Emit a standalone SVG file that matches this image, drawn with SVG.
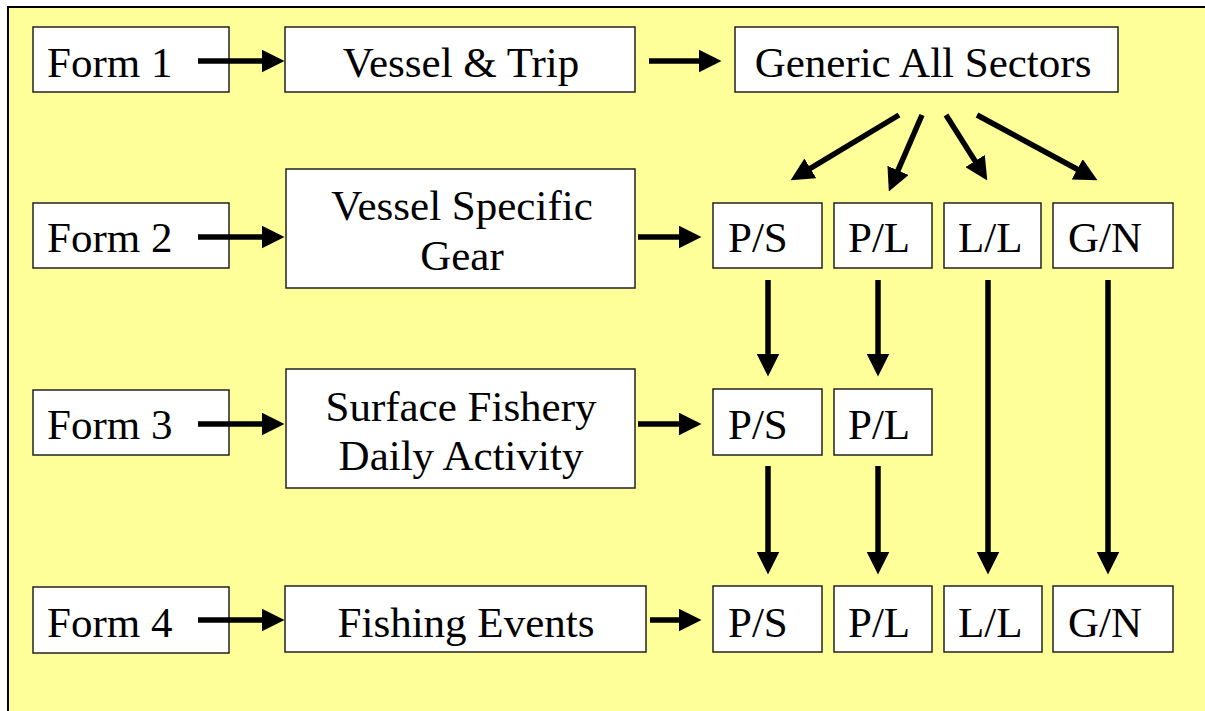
<svg xmlns="http://www.w3.org/2000/svg" width="1205" height="711" viewBox="0 0 1205 711">
<style>
.box{fill:#fff;stroke:#222;stroke-width:1.5}
.t{font-family:"Liberation Serif","Times New Roman",serif;font-size:43px;fill:#000}
.c{text-anchor:middle}
.a{stroke:#000;stroke-width:5.5;fill:none;marker-end:url(#ah)}
</style>
<defs>
<marker id="ah" markerUnits="userSpaceOnUse" markerWidth="23" markerHeight="23" refX="0.5" refY="11.5" orient="auto" viewBox="0 0 23 23">
<path d="M0,0 L23,11.5 L0,23 Z" fill="#000"/>
</marker>
</defs>
<rect x="8" y="7" width="1210" height="720" fill="#FFFF99" stroke="#000" stroke-width="2"/>

<g id="form1"><rect class="box" x="33" y="27" width="196" height="65"/><text class="t" x="47" y="77">Form 1</text></g>
<g id="vessel-trip"><rect class="box" x="285" y="27" width="350" height="65"/><text class="t c" x="461" y="77">Vessel &amp; Trip</text></g>
<g id="generic"><rect class="box" x="735" y="27" width="383" height="65"/><text class="t c" x="923" y="77">Generic All Sectors</text></g>

<g id="form2"><rect class="box" x="33" y="203" width="196" height="65"/><text class="t" x="47" y="252">Form 2</text></g>
<g id="vessel-gear"><rect class="box" x="286" y="169" width="349" height="119"/><text class="t c" x="462" y="220">Vessel Specific</text><text class="t c" x="462" y="270">Gear</text></g>
<g id="ps2"><rect class="box" x="713" y="203" width="109" height="65"/><text class="t" x="728" y="252">P/S</text></g>
<g id="pl2"><rect class="box" x="834" y="203" width="98" height="65"/><text class="t" x="848" y="252">P/L</text></g>
<g id="ll2"><rect class="box" x="944" y="203" width="97" height="65"/><text class="t" x="958" y="252">L/L</text></g>
<g id="gn2"><rect class="box" x="1053" y="203" width="120" height="65"/><text class="t" x="1068" y="252">G/N</text></g>

<g id="form3"><rect class="box" x="33" y="390" width="196" height="65"/><text class="t" x="47" y="439">Form 3</text></g>
<g id="surface"><rect class="box" x="286" y="369" width="349" height="119"/><text class="t c" x="461" y="421">Surface Fishery</text><text class="t c" x="461" y="470">Daily Activity</text></g>
<g id="ps3"><rect class="box" x="713" y="389" width="109" height="66"/><text class="t" x="728" y="439">P/S</text></g>
<g id="pl3"><rect class="box" x="834" y="389" width="98" height="66"/><text class="t" x="848" y="439">P/L</text></g>

<g id="form4"><rect class="box" x="33" y="587" width="196" height="66"/><text class="t" x="47" y="637">Form 4</text></g>
<g id="fishing"><rect class="box" x="285" y="586" width="361" height="66"/><text class="t c" x="466" y="637">Fishing Events</text></g>
<g id="ps4"><rect class="box" x="713" y="586" width="109" height="66"/><text class="t" x="728" y="637">P/S</text></g>
<g id="pl4"><rect class="box" x="834" y="586" width="98" height="66"/><text class="t" x="848" y="637">P/L</text></g>
<g id="ll4"><rect class="box" x="944" y="586" width="98" height="66"/><text class="t" x="958" y="637">L/L</text></g>
<g id="gn4"><rect class="box" x="1053" y="586" width="120" height="66"/><text class="t" x="1068" y="637">G/N</text></g>

<g id="connectors">
<line class="a" x1="198" y1="61" x2="262" y2="61"/>
<line class="a" x1="649" y1="61" x2="699" y2="61"/>
<line class="a" x1="198" y1="237" x2="262" y2="237"/>
<line class="a" x1="638" y1="237" x2="679" y2="237"/>
<line class="a" x1="198" y1="424" x2="262" y2="424"/>
<line class="a" x1="638" y1="424" x2="679" y2="424"/>
<line class="a" x1="198" y1="620" x2="262" y2="620"/>
<line class="a" x1="650" y1="620" x2="679" y2="620"/>
<line class="a" x1="899" y1="115" x2="809.9" y2="168.6"/>
<line class="a" x1="922" y1="115" x2="897.8" y2="170.8"/>
<line class="a" x1="946" y1="115" x2="975.3" y2="161.4"/>
<line class="a" x1="977" y1="115" x2="1077.7" y2="169.5"/>
<line class="a" x1="768" y1="280" x2="768" y2="354"/>
<line class="a" x1="878" y1="280" x2="878" y2="354"/>
<line class="a" x1="768" y1="466" x2="768" y2="552"/>
<line class="a" x1="878" y1="466" x2="878" y2="552"/>
<line class="a" x1="988" y1="280" x2="988" y2="552"/>
<line class="a" x1="1108" y1="280" x2="1108" y2="552"/>
</g>
</svg>
